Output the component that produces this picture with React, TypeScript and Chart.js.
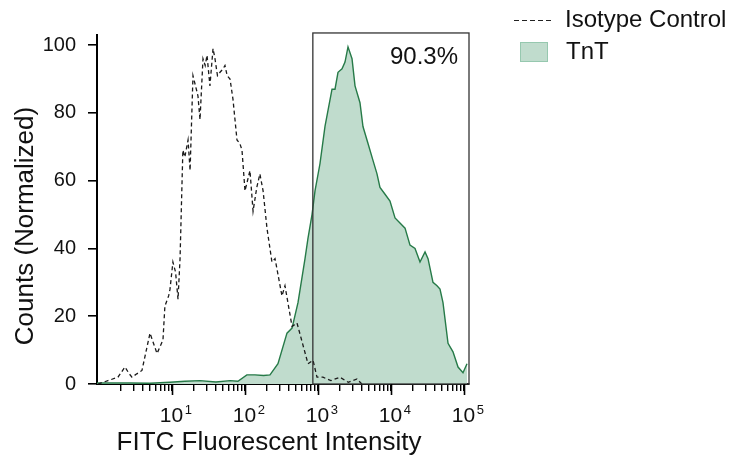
import React, { useEffect, useRef } from 'react';
import { Chart, registerables } from 'chart.js';

Chart.register(...registerables);

// ---------- data ----------
const seriesLabels = ['Isotype Control', 'TnT'];

const isoX = [0.97, 1.33, 1.82, 2.27, 2.6, 2.83, 3.3, 3.88, 5.0, 6.24, 7.53, 8.0, 9.0, 9.4, 10.3, 11.2, 12.1, 12.9, 14.1, 15, 16.6, 17.7, 19.4, 21, 22.7, 24.2, 26.6, 28.5, 30.2, 33.1, 36.5, 38.8, 42, 45.5, 50, 53.2, 57, 62.4, 68.5, 77.7, 85, 91, 100, 117, 129, 145, 160, 177, 200, 234, 258, 321, 353, 441, 516, 729, 855, 969, 1170, 1500, 2000, 2600, 3420, 3980];
const isoY = [0, 1, 2, 5, 3, 2, 3, 4, 15, 9, 13, 23, 26, 28, 36, 33, 25, 37, 69, 67, 72, 63, 91, 88, 85, 78, 96, 94, 97, 88, 99, 96, 91, 92, 93, 94, 91, 90, 84, 72, 71, 69, 57, 63, 51, 58, 62, 57, 46, 36, 37, 26, 29, 17, 18, 6, 7, 2, 2, 1, 2, 0.5, 1.5, 0];

const tntX = [0.94, 2.66, 5, 9.4, 15, 24.2, 40, 62.4, 80, 106, 137, 180, 220, 283, 376, 441, 532, 664, 729, 828, 910, 1064, 1247, 1556, 1710, 1879, 2133, 2344, 2576, 2924, 3214, 3758, 4130, 4842, 5662, 6427, 7063, 8279, 9683, 11350, 13270, 15560, 18200, 21330, 24950, 29240, 32140, 37580, 42660, 46880, 51520, 60390, 70630, 82790, 96830, 109900];
const tntY = [0.3, 0.3, 0.2, 0.5, 0.8, 1, 0.6, 1, 0.8, 2.7, 2.7, 2.5, 2.7, 6, 15, 16.5, 24, 37, 43, 50, 57, 65, 76, 87, 87, 92, 93, 95, 99.5, 96, 88, 83, 76, 71, 66, 62, 58, 56, 54, 49, 47.5, 46, 41, 40, 36, 39, 37, 30, 29, 28, 24, 12, 9.5, 5, 3.3, 6];

const yTicks = [0, 20, 40, 60, 80, 100];
const xMajorPowers = [1, 2, 3, 4, 5];
const xMinorMultipliers = [2, 3, 4, 5, 6, 7, 8, 9];
const xMin = 0.94;
const xMax = 117000;
const yMax = 103;

const gateMin = 850;
const gateTop = 103.6;
const gateLabel = '90.3%';

const xTitle = 'FITC Fluorescent Intensity';
const yTitle = 'Counts (Normalized)';

// ---------- styles ----------
const FONT = "'Liberation Sans', Arial, Helvetica, sans-serif";
const GREEN_LINE = 'rgb(38,122,72)';
const GREEN_FILL = 'rgb(192,220,205)';

function buildXTicks(): number[] {
  const out: number[] = [];
  for (let p = 0; p < xMajorPowers.length; p++) {
    const base = Math.pow(10, xMajorPowers[p] - 1);
    for (const m of xMinorMultipliers) out.push(m * base);
    out.push(Math.pow(10, xMajorPowers[p]));
  }
  return out;
}

const overlayPlugin = {
  id: 'overlay',
  afterDatasetsDraw(chart: any) {
    const { ctx, chartArea, scales } = chart;
    const xs = scales.x;
    const ys = scales.y;
    // gate rectangle
    const gl = xs.getPixelForValue(gateMin);
    const gr = chartArea.right;
    const gt = ys.getPixelForValue(gateTop);
    const gb = ys.getPixelForValue(0);
    ctx.save();
    ctx.strokeStyle = '#333333';
    ctx.lineWidth = 1.3;
    ctx.strokeRect(gl, gt, gr - gl, gb - gt);
    ctx.fillStyle = '#111111';
    ctx.font = `24px ${FONT}`;
    ctx.textAlign = 'right';
    ctx.textBaseline = 'middle';
    ctx.fillText(gateLabel, gr - 11, gt + 24);
    ctx.restore();
  },
  afterDraw(chart: any) {
    const { ctx, chartArea, scales } = chart;
    const xs = scales.x;
    const bottom = chartArea.bottom;
    ctx.save();
    // major tick extension + labels with superscript
    ctx.strokeStyle = '#000';
    ctx.lineWidth = 1.6;
    for (const p of xMajorPowers) {
      const v = Math.pow(10, p);
      const px = Math.round(xs.getPixelForValue(v)) + 0.5;
      ctx.beginPath();
      ctx.moveTo(px, bottom);
      ctx.lineTo(px, bottom + 11);
      ctx.stroke();
      ctx.fillStyle = '#111';
      ctx.font = `21px ${FONT}`;
      ctx.textAlign = 'center';
      ctx.textBaseline = 'alphabetic';
      const base = '10';
      const w = ctx.measureText(base).width;
      ctx.fillText(base, px - 1, bottom + 37.5);
      ctx.font = `13px ${FONT}`;
      ctx.textAlign = 'left';
      ctx.fillText(String(p), px + w / 2 + 0.5, bottom + 30);
    }
    // axis titles
    ctx.fillStyle = '#111';
    ctx.font = `26px ${FONT}`;
    ctx.textAlign = 'center';
    ctx.textBaseline = 'alphabetic';
    ctx.fillText(xTitle, 269, 450);
    ctx.save();
    ctx.translate(33, 226);
    ctx.rotate(-Math.PI / 2);
    ctx.fillText(yTitle, 0, 0);
    ctx.restore();
    // legend
    const lx = chartArea.right;
    const ds0 = chart.data.datasets[0];
    const ds1 = chart.data.datasets[1];
    ctx.strokeStyle = '#222';
    ctx.lineWidth = 1.2;
    ctx.setLineDash([5, 3]);
    ctx.beginPath();
    ctx.moveTo(lx + 45, 20.5);
    ctx.lineTo(lx + 85, 20.5);
    ctx.stroke();
    ctx.setLineDash([]);
    ctx.fillStyle = GREEN_FILL;
    ctx.fillRect(lx + 51, 42, 28, 20);
    ctx.strokeStyle = 'rgb(150,200,175)';
    ctx.lineWidth = 1;
    ctx.strokeRect(lx + 51.5, 42.5, 27, 19);
    ctx.fillStyle = '#111';
    ctx.font = `24px ${FONT}`;
    ctx.textAlign = 'left';
    ctx.textBaseline = 'middle';
    ctx.fillText(ds0.label, lx + 96, 20);
    ctx.fillText(ds1.label, lx + 97, 52);
    ctx.restore();
  },
};

export default function App() {
  const ref = useRef<HTMLCanvasElement | null>(null);

  useEffect(() => {
    if (!ref.current) return;
    const xTickValues = buildXTicks();
    const chart = new Chart(ref.current, {
      type: 'line',
      data: {
        datasets: [
          {
            label: seriesLabels[0],
            data: isoX.map((x, i) => ({ x, y: isoY[i] })),
            borderColor: '#1a1a1a',
            borderWidth: 1.3,
            borderDash: [4, 3],
            pointRadius: 0,
            fill: false,
            tension: 0,
          },
          {
            label: seriesLabels[1],
            data: tntX.map((x, i) => ({ x, y: tntY[i] })),
            borderColor: GREEN_LINE,
            backgroundColor: GREEN_FILL,
            borderWidth: 1.4,
            pointRadius: 0,
            fill: 'origin',
            tension: 0,
          },
        ],
      },
      options: {
        animation: false,
        responsive: false,
        devicePixelRatio: 1,
        layout: { padding: { left: 0, top: 35, right: 260, bottom: 0 } },
        plugins: {
          legend: { display: false },
          tooltip: { enabled: false },
        },
        scales: {
          x: {
            type: 'logarithmic',
            min: xMin,
            max: xMax,
            afterBuildTicks: (scale: any) => {
              scale.ticks = xTickValues.map((v) => ({ value: v }));
            },
            afterFit: (scale: any) => {
              scale.height = 71;
            },
            ticks: { display: false },
            grid: {
              display: true,
              drawOnChartArea: false,
              drawTicks: true,
              tickLength: 7,
              color: '#000',
              lineWidth: 1.4,
            },
            border: { display: true, color: '#000', width: 2 },
            title: { display: false },
          },
          y: {
            type: 'linear',
            min: 0,
            max: yMax,
            afterBuildTicks: (scale: any) => {
              scale.ticks = yTicks.map((v) => ({ value: v }));
            },
            afterFit: (scale: any) => {
              scale.width = 97;
            },
            ticks: {
              color: '#111',
              padding: 12,
              font: { family: FONT, size: 20 },
            },
            grid: {
              display: true,
              drawOnChartArea: false,
              drawTicks: true,
              tickLength: 9,
              color: '#000',
              lineWidth: 1.6,
            },
            border: { display: true, color: '#000', width: 2 },
            title: { display: false },
          },
        },
      },
      plugins: [overlayPlugin],
    });
    return () => chart.destroy();
  }, []);

  return (
    <div style={{ position: 'fixed', left: 0, top: 0, width: 729, height: 455, background: '#fff' }}>
      <canvas ref={ref} width={729} height={455} style={{ width: 729, height: 455 }} />
    </div>
  );
}
